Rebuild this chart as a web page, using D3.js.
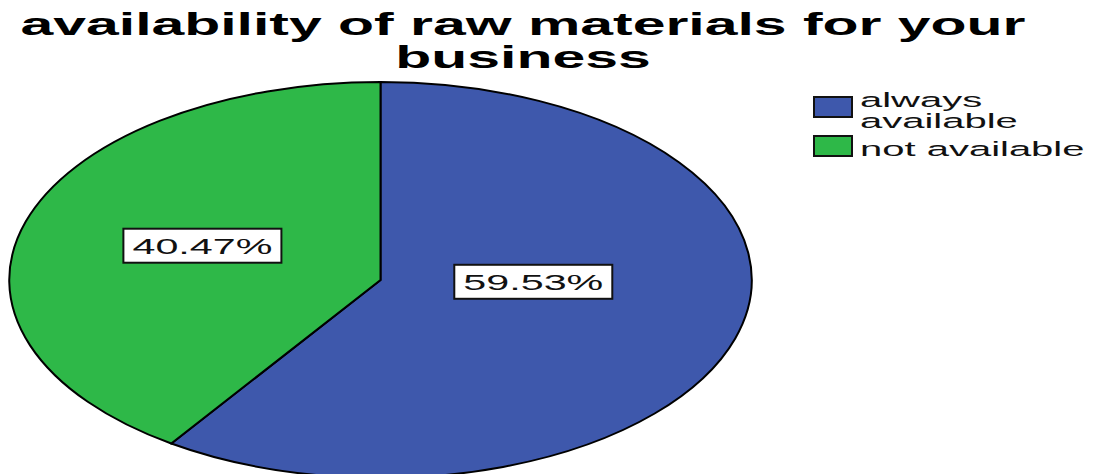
<!DOCTYPE html>
<html>
<head>
<meta charset="utf-8">
<script src="https://cdn.jsdelivr.net/npm/d3@7"></script>
<style>
  body { margin: 0; background: #fff; }
  text { font-family: "Liberation Sans", Arial, sans-serif; }
</style>
</head>
<body>
<script>
// data
let categories = ["always available", "not available"];
let percents = [59.53, 40.47];
let colors = ["#3E58AC", "#2EB848"];
let legendLines = [["always", "available"], ["not available"]];

const W = 1096, H = 474;
const stretch = 1.875;            // the whole picture is squeezed wide
const cx = 380.5, cy = 280, r = 198;

let svg = d3.select("body").append("svg").attr("width", W).attr("height", H);

// widen text by the same factor as the pie
function widen(sel, k) {
  k = k || stretch;
  sel.each(function() {
    let len = this.getComputedTextLength();
    d3.select(this).attr("textLength", len * k).attr("lengthAdjust", "spacingAndGlyphs");
  });
}

// title
svg.append("text").attr("x", 523).attr("y", 35).attr("text-anchor", "middle")
  .attr("font-size", 31).attr("font-weight", "bold")
  .text("availability of raw materials for your").call(widen, 1.9);
svg.append("text").attr("x", 523).attr("y", 68).attr("text-anchor", "middle")
  .attr("font-size", 31).attr("font-weight", "bold")
  .text("business").call(widen, 1.9);

// pie
let data = categories.map((c, i) => ({cat: c, value: percents[i], color: colors[i]}));
let pie = d3.pie().sort(null).value(d => d.value);
let arc = d3.arc().innerRadius(0).outerRadius(r);
let arcs = pie(data);

let g = svg.append("g").attr("transform", `translate(${cx},${cy}) scale(${stretch},1)`);
g.selectAll("path").data(arcs).enter().append("path")
  .attr("d", arc)
  .attr("fill", d => d.data.color)
  .attr("stroke", "#000")
  .attr("stroke-width", 2)
  .attr("vector-effect", "non-scaling-stroke");

// labels at roughly half radius, nudged like the original
let labelArc = d3.arc().innerRadius(r * 0.51).outerRadius(r * 0.51);
let nudge = {"always available": [-15, -28], "not available": [1.5, -4.5]};

let lab = svg.selectAll("g.lab").data(arcs).enter().append("g").attr("class", "lab")
  .attr("transform", d => {
    let c = labelArc.centroid(d);
    let n = nudge[d.data.cat];
    return `translate(${cx + (c[0] + n[0]) * stretch},${cy + c[1] + n[1]})`;
  });
lab.append("rect")
  .attr("x", -79).attr("y", -17).attr("width", 158).attr("height", 34)
  .attr("fill", "#fff").attr("stroke", "#111").attr("stroke-width", 2);
lab.append("text").attr("text-anchor", "middle").attr("y", 8)
  .attr("font-size", 22).attr("fill", "#111")
  .text(d => d3.format(".2f")(d.data.value) + "%")
  .call(widen);

// legend
let legendY = [97, 136];
let leg = svg.selectAll("g.leg").data(data).enter().append("g").attr("class", "leg");
leg.append("rect")
  .attr("x", 814).attr("y", (d, i) => legendY[i])
  .attr("width", 38).attr("height", 20)
  .attr("fill", d => d.color).attr("stroke", "#111").attr("stroke-width", 2);
leg.each(function(d, i) {
  let lines = legendLines[i];
  lines.forEach((t, j) => {
    d3.select(this).append("text")
      .attr("x", 860)
      .attr("y", i === 0 ? 107 + j * 21 : 156)
      .attr("font-size", 20.5).attr("fill", "#111")
      .text(t).call(widen, 1.95);
  });
});
</script>
</body>
</html>
